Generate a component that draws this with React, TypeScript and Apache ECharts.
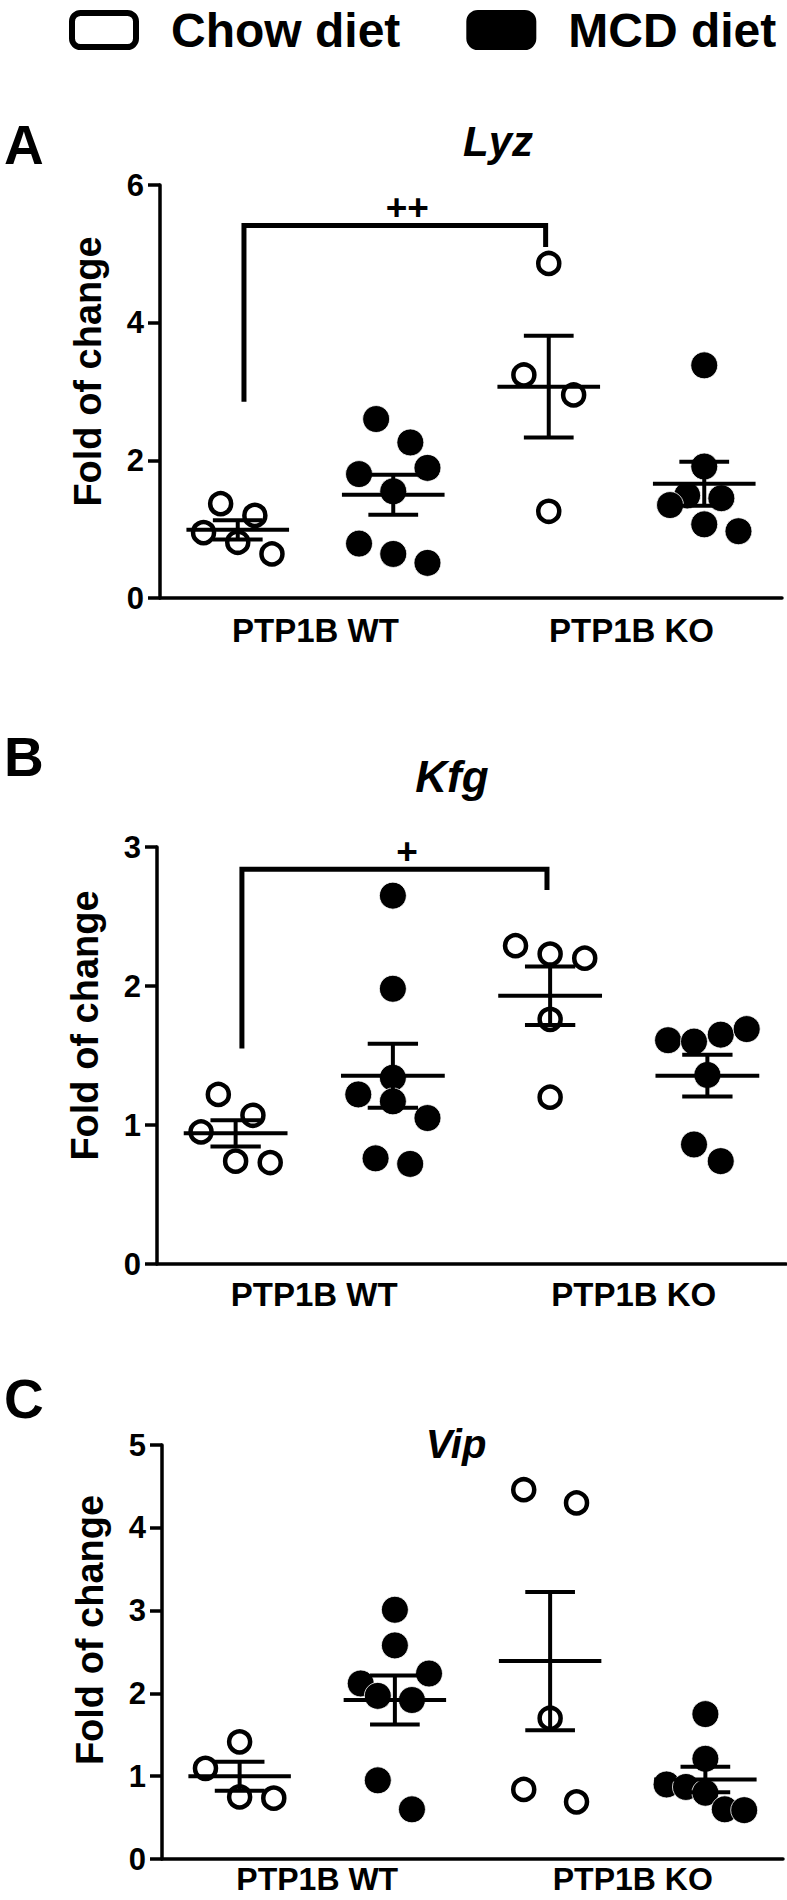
import React, { useEffect, useRef } from 'react';
import * as echarts from 'echarts';

const FONT = 'Liberation Sans, Arial, Helvetica, sans-serif';

// ---------- data ----------
const genotypeLabels = ['PTP1B WT', 'PTP1B KO'];
const panelLetters = ['A', 'B', 'C'];
const geneNames = ['Lyz', 'Kfg', 'Vip'];
const yMax = [6, 3, 5];
const yInterval = [2, 1, 1];
const dietNames = ['Chow diet', 'MCD diet'];

// group order along x: Chow WT, MCD WT, Chow KO, MCD KO
// Panel A - Lyz
const lyzChowWT = [1.37, 1.2, 0.95, 0.81, 0.64];
const lyzChowWTJitter = [-0.11, 0.11, -0.22, 0, 0.22];
const lyzMcdWT = [2.6, 2.26, 1.8, 1.89, 1.55, 0.79, 0.64, 0.51];
const lyzMcdWTJitter = [-0.11, 0.11, -0.22, 0.22, 0, -0.22, 0, 0.22];
const lyzChowKO = [4.86, 3.24, 2.95, 1.26];
const lyzChowKOJitter = [0, -0.16, 0.16, 0];
const lyzMcdKO = [3.38, 1.91, 1.49, 1.45, 1.35, 1.07, 0.97];
const lyzMcdKOJitter = [0, 0, -0.11, 0.11, -0.22, 0, 0.22];
const lyzMean = [0.99, 1.5, 3.07, 1.66];
const lyzSem = [0.14, 0.29, 0.74, 0.32];
const lyzBracket = [0.54, 2.48, 5.41, 2.85, 5.1, 1.59];

// Panel B - Kfg
const kfgChowWT = [1.22, 1.07, 0.95, 0.74, 0.73];
const kfgChowWTJitter = [-0.11, 0.11, -0.22, 0, 0.22];
const kfgMcdWT = [2.65, 1.98, 1.34, 1.22, 1.17, 1.05, 0.76, 0.72];
const kfgMcdWTJitter = [0, 0, 0, -0.22, 0, 0.22, -0.11, 0.11];
const kfgChowKO = [2.29, 2.23, 2.2, 1.76, 1.2];
const kfgChowKOJitter = [-0.22, 0, 0.22, 0, 0];
const kfgMcdKO = [1.61, 1.6, 1.65, 1.69, 1.36, 0.86, 0.74];
const kfgMcdKOJitter = [-0.25, -0.085, 0.085, 0.25, 0, -0.085, 0.085];
const kfgMean = [0.94, 1.355, 1.93, 1.355];
const kfgSem = [0.095, 0.23, 0.21, 0.15];
const kfgBracket = [0.54, 2.48, 2.84, 1.55, 2.69, 1.59];

// Panel C - Vip
const vipChowWT = [1.415, 1.095, 0.75, 0.735];
const vipChowWTJitter = [0, -0.22, 0, 0.22];
const vipMcdWT = [3.01, 2.58, 2.24, 2.12, 1.97, 1.92, 0.95, 0.6];
const vipMcdWTJitter = [0, 0, 0.22, -0.22, -0.11, 0.11, -0.11, 0.11];
const vipChowKO = [4.46, 4.3, 1.7, 0.84, 0.69];
const vipChowKOJitter = [-0.17, 0.17, 0, -0.17, 0.17];
const vipMcdKO = [1.75, 1.21, 0.9, 0.87, 0.8, 0.6, 0.59];
const vipMcdKOJitter = [0, 0, -0.25, -0.125, 0, 0.125, 0.25];
const vipMean = [1.0, 1.92, 2.39, 0.96];
const vipSem = [0.175, 0.295, 0.835, 0.155];

const significanceMarks = ['++', '+'];

// ---------- layout (not data) ----------
const grids = [
  { left: 160, top: 185, width: 622, height: 413 },
  { left: 157, top: 847, width: 629, height: 417 },
  { left: 162, top: 1445, width: 621, height: 414 },
];
const catLabelMargin = [16, 14, 4];
const catLabelSize = [33, 33, 32];
const yNameShift = [40, 60, 44];
const geneTitlePos = [
  { x: 498, top: 120, size: 42 },
  { x: 452, top: 754, size: 44 },
  { x: 456, top: 1424, size: 40 },
];
const letterTop = [117, 729, 1371];

const panels = [
  {
    chow: [[lyzChowWT, lyzChowWTJitter, 0], [lyzChowKO, lyzChowKOJitter, 2]],
    mcd: [[lyzMcdWT, lyzMcdWTJitter, 1], [lyzMcdKO, lyzMcdKOJitter, 3]],
    mean: lyzMean, sem: lyzSem, bracket: lyzBracket, mark: significanceMarks[0],
  },
  {
    chow: [[kfgChowWT, kfgChowWTJitter, 0], [kfgChowKO, kfgChowKOJitter, 2]],
    mcd: [[kfgMcdWT, kfgMcdWTJitter, 1], [kfgMcdKO, kfgMcdKOJitter, 3]],
    mean: kfgMean, sem: kfgSem, bracket: kfgBracket, mark: significanceMarks[1],
  },
  {
    chow: [[vipChowWT, vipChowWTJitter, 0], [vipChowKO, vipChowKOJitter, 2]],
    mcd: [[vipMcdWT, vipMcdWTJitter, 1], [vipMcdKO, vipMcdKOJitter, 3]],
    mean: vipMean, sem: vipSem, bracket: null as number[] | null, mark: '',
  },
];

function points(groups: any[]) {
  const out: number[][] = [];
  groups.forEach(([vals, jit, g]) => {
    vals.forEach((v: number, i: number) => out.push([g + 0.5 + jit[i], v]));
  });
  return out;
}

function buildOption() {
  const xAxis: any[] = [];
  const yAxis: any[] = [];
  const series: any[] = [];
  const title: any[] = [];

  panels.forEach((p, k) => {
    xAxis.push({
      type: 'value', gridIndex: k, min: 0, max: 4,
      axisLine: { show: true, onZero: false, lineStyle: { color: '#000', width: 3.5 } },
      axisTick: { show: false }, axisLabel: { show: false }, splitLine: { show: false },
    });
    xAxis.push({
      type: 'category', gridIndex: k, data: genotypeLabels, position: 'bottom',
      axisLine: { show: false }, axisTick: { show: false }, splitLine: { show: false },
      axisLabel: {
        margin: catLabelMargin[k], fontSize: catLabelSize[k], fontWeight: 'bold', color: '#000', fontFamily: FONT,
        lineHeight: catLabelSize[k],
        formatter: (v: string, i: number) => (i === 1 ? '{ko|' + v + '}' : v),
        rich: { ko: { fontSize: catLabelSize[k], lineHeight: catLabelSize[k], fontWeight: 'bold', color: '#000', fontFamily: FONT, padding: [0, 0, 0, 10] } },
      },
    });
    yAxis.push({
      type: 'value', gridIndex: k, min: 0, max: yMax[k], interval: yInterval[k],
      name: 'Fold of change', nameLocation: 'middle', nameGap: 53, nameRotate: 90,
      nameTextStyle: { fontSize: 38, fontWeight: 'bold', color: '#000', fontFamily: FONT, padding: [0, 0, 0, yNameShift[k]] },
      axisLine: { show: true, lineStyle: { color: '#000', width: 3.5 } },
      axisTick: { show: true, length: 12, lineStyle: { color: '#000', width: 3.5 } },
      axisLabel: { margin: 16, fontSize: 31, fontWeight: 'bold', color: '#000', fontFamily: FONT },
      splitLine: { show: false },
    });

    title.push({
      text: panelLetters[k], left: 4, top: letterTop[k], padding: 0,
      textStyle: { fontSize: 55, fontWeight: 'bold', color: '#000', fontFamily: FONT },
    });
    title.push({
      text: geneNames[k], left: geneTitlePos[k].x, top: geneTitlePos[k].top, padding: 0, textAlign: 'center',
      textStyle: { fontSize: geneTitlePos[k].size, fontWeight: 'bold', fontStyle: 'italic', color: '#000', fontFamily: FONT },
    });

    series.push({
      name: dietNames[0], type: 'scatter', xAxisIndex: 2 * k, yAxisIndex: k, z: 2,
      symbol: 'circle', symbolSize: 21,
      itemStyle: { color: '#fff', borderColor: '#000', borderWidth: 4.5, opacity: 1 },
      data: points(p.chow),
    });
    series.push({
      name: dietNames[1], type: 'scatter', xAxisIndex: 2 * k, yAxisIndex: k, z: 2,
      symbol: 'circle', symbolSize: 27,
      itemStyle: { color: '#000', borderColor: '#fff', borderWidth: 0.8, opacity: 1 },
      data: points(p.mcd),
    });
    series.push({
      name: 'mean ± SEM', type: 'custom', xAxisIndex: 2 * k, yAxisIndex: k, z: 4,
      encode: { x: 0, y: 1 },
      data: p.mean.map((m, i) => [i + 0.5, m, p.sem[i]]),
      renderItem: (params: any, api: any) => {
        const x = api.value(0), m = api.value(1), s = api.value(2);
        const c = api.coord([x, m]);
        const hi = api.coord([x, m + s]);
        const lo = api.coord([x, m - s]);
        const w = api.size([1, 0])[0];
        const hm = w * 0.33, hc = w * 0.16;
        const style = { stroke: '#000', lineWidth: 4, lineCap: 'butt' };
        return {
          type: 'group',
          children: [
            { type: 'line', shape: { x1: c[0] - hm, y1: c[1], x2: c[0] + hm, y2: c[1] }, style },
            { type: 'line', shape: { x1: c[0], y1: hi[1], x2: c[0], y2: lo[1] }, style },
            { type: 'line', shape: { x1: c[0] - hc, y1: hi[1], x2: c[0] + hc, y2: hi[1] }, style },
            { type: 'line', shape: { x1: c[0] - hc, y1: lo[1], x2: c[0] + hc, y2: lo[1] }, style },
          ],
        };
      },
    });
    if (p.bracket) {
      const mark = p.mark;
      series.push({
        name: 'significance', type: 'custom', xAxisIndex: 2 * k, yAxisIndex: k, z: 4,
        encode: { x: [0, 1, 5], y: [2, 3, 4] },
        data: [p.bracket],
        renderItem: (params: any, api: any) => {
          const x1 = api.value(0), x2 = api.value(1), top = api.value(2);
          const l = api.value(3), r = api.value(4), mx = api.value(5);
          const a = api.coord([x1, l]);
          const b = api.coord([x1, top]);
          const c = api.coord([x2, top]);
          const d = api.coord([x2, r]);
          const mpos = api.coord([mx, top]);
          return {
            type: 'group',
            children: [
              { type: 'polyline', shape: { points: [a, b, c, d] }, style: { stroke: '#000', lineWidth: 5, fill: null, lineJoin: 'miter' } },
              {
                type: 'text', x: mpos[0], y: mpos[1] - 18,
                style: { text: mark, fill: '#000', fontSize: 37, fontWeight: 'bold', fontFamily: FONT, align: 'center', verticalAlign: 'middle' },
              },
            ],
          };
        },
      });
    }
  });

  return {
    animation: false,
    backgroundColor: '#fff',
    textStyle: { fontFamily: FONT },
    title,
    legend: {
      data: [
        { name: dietNames[0], itemStyle: { color: '#fff', borderColor: '#000', borderWidth: 6 } },
        { name: dietNames[1], itemStyle: { color: '#000', borderColor: '#000', borderWidth: 6 } },
      ],
      left: 69, top: 6, padding: 0, icon: 'roundRect', itemWidth: 64, itemHeight: 34, itemGap: 66,
      selectedMode: false,
      textStyle: { fontSize: 48, fontWeight: 'bold', color: '#000', fontFamily: FONT, padding: [0, 0, 0, 30] },
    },
    grid: grids.map((g) => ({ ...g, containLabel: false })),
    xAxis,
    yAxis,
    series,
  };
}

export default function App() {
  const ref = useRef<HTMLDivElement>(null);
  useEffect(() => {
    if (!ref.current) return;
    const chart = echarts.init(ref.current, undefined, { renderer: 'svg' });
    chart.setOption(buildOption() as any);
    return () => chart.dispose();
  }, []);
  return (
    <div
      ref={ref}
      style={{ position: 'absolute', left: 0, top: 0, width: 787, height: 1900, background: '#fff' }}
    />
  );
}
